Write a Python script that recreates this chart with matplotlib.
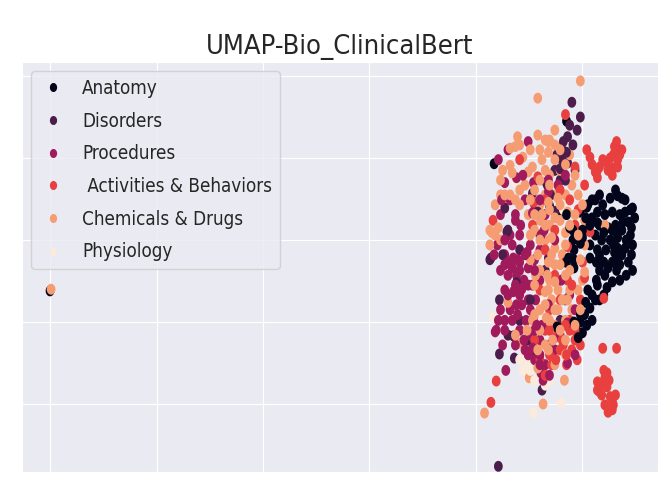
import numpy as np
import matplotlib
matplotlib.use("Agg")
import matplotlib.pyplot as plt
import seaborn as sns
from matplotlib.path import Path
from matplotlib.lines import Line2D
from matplotlib import font_manager as fm

categories = ["Anatomy", "Disorders", "Procedures", " Activities & Behaviors",
              "Chemicals & Drugs", "Physiology"]

anatomy = [(4.17,2.93),(4.85,3.45),(5.33,3.11),(4.69,2.42),(4.79,2.32),(4.98,2.34),(5.05,2.43),
           (5.12,2.49),(5.19,2.43),(5.26,2.51),(5.33,2.54),(5.40,2.49),(5.45,2.37),(5.49,2.27),
           (5.43,2.22),(5.35,2.31),(5.28,2.34),(5.21,2.31),(5.14,2.34),(5.09,2.27),(5.16,2.18),
           (5.24,2.15),(5.31,2.18),(5.37,2.12),(5.45,2.06),(5.47,1.94),(5.41,2.00),(5.33,2.03),
           (5.26,2.00),(5.18,2.00),(5.12,2.06),(5.05,2.12),(5.07,1.94),(5.14,1.88),(5.22,1.88),
           (5.30,1.85),(5.37,1.82),(5.43,1.73),(5.47,1.63),(5.35,1.70),(5.28,1.73),(5.20,1.73),
           (5.13,1.73),(5.07,1.78),(5.21,1.57),(5.28,1.49),(5.14,1.45),(5.20,1.33),(5.12,1.27),
           (5.07,1.17),(5.02,1.09),(4.98,1.00),(4.94,0.90),(5.00,0.87),(4.91,2.12),(4.91,2.00),
           (4.92,1.88),(4.92,1.76),(4.92,1.66),(4.98,1.96),(4.88,2.15),(5.00,2.12),(5.04,2.40),
           (5.28,2.12),(5.41,1.57),(5.16,1.27),(5.09,1.02),(5.33,1.90),(5.46,1.82),(5.32,1.63),
           (5.05,1.39),(4.85,2.31),(0.00,1.38),(4.85,1.73),(4.76,0.94),
           (5.09,2.49),(5.16,2.55),(5.31,2.61),(5.37,2.51),(5.47,2.39),(5.40,2.34),(5.14,2.21),
           (5.07,2.18),(5.20,2.09),(5.32,2.09),(5.38,2.22),(5.46,2.15),(5.29,1.94),(5.40,1.90),
           (5.16,1.81),(5.24,1.66),(5.31,1.76),(5.35,1.51),(5.16,1.63),(5.13,1.51),(5.23,1.42),
           (5.09,1.33),(5.03,1.24),(4.98,1.09),(4.92,1.00),(4.96,0.81),(5.04,0.96),(5.00,2.03),
           (5.03,2.27),(4.87,1.78)]

disorders = [(4.90,3.68),(4.98,3.50),(4.95,3.34),(4.86,3.26),(4.82,3.20),(4.81,3.10),(4.76,3.04),
             (4.81,2.98),(4.86,2.94),(4.74,2.85),(4.79,2.73),(4.67,2.67),(4.53,2.57),(4.27,2.39),
             (4.30,2.12),(4.66,2.70),(4.74,2.35),(4.77,3.01),(4.14,1.78),(4.25,1.82),(4.22,1.27),
             (4.35,0.83),(4.22,0.61),(4.36,0.56),(4.54,0.60),(4.62,0.17),(4.21,-0.76),(4.30,0.84),
             (4.29,2.10),(4.13,1.76),(4.65,1.63),(4.60,2.06),(4.41,1.02),(4.49,0.78),(4.84,2.73),
             (4.70,2.55),(4.93,2.85),(4.41,1.88),(4.51,1.27),(4.79,1.02),(4.38,1.48),(4.68,1.78),
             (4.58,2.34),(4.88,3.40),(4.91,3.16),(4.85,3.07),(4.79,2.87)]

procedures = [(4.49,3.20),(4.30,3.10),(4.21,2.98),(4.38,2.76),(4.27,2.70),(4.54,2.70),(4.46,2.49),
              (4.55,2.43),(4.65,2.31),(4.37,2.31),(4.23,2.31),(4.32,2.06),(4.41,2.06),(4.51,1.94),
              (4.60,1.88),(4.20,1.94),(4.27,1.82),(4.35,1.78),(4.41,1.73),(4.49,1.66),(4.55,1.76),
              (4.23,1.63),(4.30,1.57),(4.38,1.57),(4.45,1.51),(4.53,1.45),(4.60,1.51),(4.27,1.39),
              (4.35,1.37),(4.41,1.33),(4.49,1.27),(4.56,1.27),(4.23,1.15),(4.32,1.15),(4.39,1.09),
              (4.47,1.02),(4.54,1.05),(4.62,0.96),(4.41,0.90),(4.51,0.84),(4.60,0.78),(4.69,0.72),
              (4.37,0.72),(4.46,0.66),(4.55,0.54),(4.65,0.48),(4.74,0.66),(4.84,1.27),(4.88,1.33),
              (4.77,2.67),(4.68,2.59),(4.93,0.60),(4.61,0.38),(4.63,0.29),(4.86,0.50),(4.95,0.82),
              (4.18,0.88),(4.28,0.41),(4.80,1.51),(4.74,2.00),(4.93,1.15),(4.32,2.49),(4.19,0.90),
              (4.25,0.72),(4.79,0.84),(4.68,1.21),(4.64,2.12),(4.34,1.66),(4.43,1.40),(4.30,1.73),
              (4.51,1.15),(4.38,1.21),(4.46,1.82),(4.27,1.02),(4.55,0.90),(4.60,0.60),(4.86,0.99),
              (4.24,2.49),(4.37,2.24),(4.53,2.33),(4.42,2.18),(4.61,2.06),(4.34,1.94),(4.27,1.70),
              (4.41,1.63),(4.49,1.45),(4.37,1.45),(4.30,1.33),(4.43,1.21),(4.34,1.02),(4.45,0.78),
              (4.53,0.68),(4.27,0.90),(4.21,1.02),(4.57,0.96),(4.49,0.60),(4.60,0.48),(4.69,0.35),
              (4.39,1.76),(4.48,1.85),(4.55,1.63),(4.27,2.00),(4.17,1.82),(4.60,2.49),(4.44,2.79),
              (4.68,2.73),(4.84,2.79)]

activities = [(5.04,3.10),(5.07,3.01),(5.14,2.85),(5.16,2.89),(5.23,2.94),(5.26,3.00),(5.29,3.04),
              (5.33,2.98),(5.29,2.88),(5.24,2.85),(5.12,2.83),(5.33,2.89),(5.30,3.14),(4.84,3.53),
              (4.41,2.98),(5.19,0.68),(5.32,0.68),(5.23,0.38),(5.14,0.17),(5.18,0.11),(5.23,0.21),
              (5.26,0.09),(5.29,-0.01),(5.24,-0.10),(5.28,0.05),(5.19,0.26),(5.21,0.32),(5.16,0.23),
              (4.19,0.28),(4.14,0.02),(4.16,2.24),(4.54,2.46),(4.65,0.90),(4.74,0.81),(4.82,0.72),
              (4.90,0.66),(4.95,0.54),(4.85,0.48),(4.77,0.90),(4.88,1.02),(4.69,1.15),(4.60,1.39),
              (4.86,1.51),(4.84,1.73),(4.93,2.18),(5.02,2.67),(4.74,2.12),(4.65,1.88),(4.98,1.27),
              (4.79,1.27),(4.69,0.60),(4.60,0.54),(4.55,0.78),(4.65,2.49),(4.79,2.61),(4.88,2.49),
              (4.96,2.37),(5.00,1.73),(5.02,1.54),(5.07,2.10),(4.86,1.92),(4.53,2.18),(4.74,1.57),
              (4.65,0.35),(4.71,0.48),(4.88,0.90),(4.79,0.66),(4.98,0.72),(4.81,0.78),(4.93,0.78),
              (5.20,1.29),(4.90,1.45),(4.58,2.77),(4.93,2.89),
              (5.19,2.98),(5.35,3.04),(5.14,2.76),(5.28,2.79),(5.09,2.92),(5.37,3.10),(5.32,3.20),
              (5.16,0.15),(5.21,-0.01),(5.31,0.11),(5.25,0.29),(5.28,-0.07),(5.14,0.27),(5.20,0.41),
              (4.85,0.60),(4.75,0.54),(4.93,0.90),(4.84,0.96),(4.69,0.90)]

chemicals = [(4.98,3.94),(4.58,3.73),(4.58,3.28),(4.74,3.34),(4.69,3.22),(4.39,3.26),(4.37,3.14),
             (4.25,2.85),(4.34,2.82),(4.44,3.01),(4.53,2.89),(4.62,2.98),(4.60,3.10),(4.68,3.07),
             (4.68,3.20),(4.08,-0.11),(4.63,0.00),(4.50,0.32),(4.83,0.29),(4.40,0.74),(4.46,2.67),
             (4.55,2.61),(4.65,2.55),(4.74,2.55),(4.84,2.55),(4.90,2.67),(4.96,2.55),(4.69,2.79),
             (4.79,2.85),(4.88,3.04),(4.60,2.43),(4.69,2.37),(4.79,2.43),(4.86,2.34),(4.60,2.24),
             (4.69,2.18),(4.79,2.24),(4.84,2.09),(4.65,2.00),(4.74,1.90),(4.81,1.82),(4.68,1.73),
             (4.74,1.70),(4.60,1.63),(4.69,1.51),(4.77,1.39),(4.65,1.37),(4.71,1.27),(4.60,1.15),
             (4.77,1.15),(4.66,1.05),(4.74,0.96),(4.84,1.02),(4.90,1.15),(4.96,1.39),(5.00,1.51),
             (5.02,1.94),(5.02,2.24),(4.98,1.76),(4.88,1.39),(4.84,1.57),(4.55,2.12),(4.49,2.31),
             (4.41,2.43),(4.32,2.55),(4.23,2.55),(4.18,2.43),(4.13,2.12),(4.18,2.06),(4.23,2.00),
             (4.30,1.24),(4.51,1.76),(4.56,1.57),(4.53,1.02),(4.60,0.90),(4.68,0.66),(4.58,0.44),
             (4.74,0.48),(4.84,0.60),(5.02,1.61),(5.21,2.18),(4.93,2.79),(4.32,3.12),(4.74,3.16),
             (0.01,1.40),
             (4.49,2.83),(4.65,2.85),(4.41,2.61),(4.51,2.49),(4.68,2.46),(4.77,2.51),(4.55,2.31),
             (4.74,2.27),(4.65,2.18),(4.51,2.06),(4.60,2.00),(4.71,2.03),(4.58,1.82),(4.71,1.82),
             (4.67,1.57),(4.55,1.45),(4.74,1.49),(4.65,1.21),(4.81,1.27),(4.55,1.09),(4.69,1.02),
             (4.79,0.90),(4.65,0.72),(4.72,0.78),(4.58,0.66),(4.88,1.63),(4.84,1.94),(4.96,2.06),
             (5.00,2.43),(4.93,2.31),(4.88,2.18),(4.84,2.92),(4.74,2.98),(4.69,2.67),(4.60,2.73),
             (4.37,2.49),(4.27,2.55),(4.32,2.91),(4.41,3.16),(4.51,3.10),(4.65,3.22),(4.23,2.73),
             (4.15,2.09),(4.21,2.15),(4.13,1.94),(4.86,1.27),(4.98,1.15),(4.93,0.96),(4.84,0.78),
             (4.74,1.15),(4.68,1.39),(4.79,1.70),(4.62,2.31),(4.79,3.10),(4.48,0.90),(4.37,0.84)]

physiology = [(4.37,2.70),(4.95,2.21),(4.62,1.49),(4.16,1.06),(4.30,0.82),(4.44,0.41),(4.54,-0.11),
              (4.80,0.01),(4.69,0.29),(4.58,0.50),(4.65,1.76),(4.74,1.39),(4.79,2.00),(4.84,2.49),
              (4.51,1.15),(4.60,1.02),(4.69,1.27),(4.55,0.66),(4.46,0.60),(4.49,0.48),(4.79,2.12),
              (4.55,0.29),(4.82,2.37),(4.72,1.63),(4.60,1.27),(4.76,1.92),(4.51,0.41),(4.41,0.54),
              (4.65,0.23)]

groups = [anatomy, disorders, procedures, activities, chemicals, physiology]

def pick_font():
    prefs = []
    for f in fm.fontManager.ttflist:
        fn = f.fname.lower()
        if "bold" in fn or "oblique" in fn or "italic" in fn:
            continue
        if f.name == "DejaVu Sans" and "condensed" in fn:
            prefs.append((0, f.fname))
        elif "narrow" in fn or "condensed" in fn:
            prefs.append((1, f.fname))
    prefs.sort()
    return prefs[0][1] if prefs else None

sns.set_style("darkgrid")
fpath = pick_font()
if fpath:
    title_fp = fm.FontProperties(fname=fpath, size=19.5)
    leg_fp = fm.FontProperties(fname=fpath, size=13.5)
else:
    title_fp = fm.FontProperties(family="DejaVu Sans", size=17.5)
    leg_fp = fm.FontProperties(family="DejaVu Sans", size=12.5)

cmap = sns.color_palette("rocket", as_cmap=True)
colors = [cmap(i / 5) for i in range(6)]

t = np.linspace(0, 2 * np.pi, 48)
ell = Path(np.column_stack([0.4 * np.cos(t), 0.5 * np.sin(t)]), closed=True)

# interleave in round-robin order
xs, ys, cs = [], [], []
maxlen = max(len(g) for g in groups)
for i in range(maxlen):
    for k, g in enumerate(groups):
        if i < len(g):
            xs.append(g[i][0]); ys.append(g[i][1]); cs.append(colors[k])

fig = plt.figure(figsize=(6.72, 4.84), dpi=100)
ax = fig.add_axes([22 / 672, 12 / 484, 636 / 672, 410 / 484])
ax.scatter(xs, ys, c=cs, s=62, marker=ell, linewidths=0)
ax.set_xlim(-0.263, 5.709)
ax.set_ylim(-0.829, 4.171)
ax.set_xticks(range(6))
ax.set_yticks(range(5))
ax.set_xticklabels([])
ax.set_yticklabels([])
ax.tick_params(length=0)
ax.set_title("UMAP-Bio_ClinicalBert", fontproperties=title_fp, pad=6)

handles = [Line2D([], [], linestyle="none", marker=ell, markersize=6.5,
                  markerfacecolor=c, markeredgewidth=0) for c in colors]
ax.legend(handles, categories, loc="upper left", prop=leg_fp, handlelength=1.51,
          handletextpad=0.79, labelspacing=0.73, borderaxespad=0.48, borderpad=0.42)

fig.savefig("out.png", dpi=100)
